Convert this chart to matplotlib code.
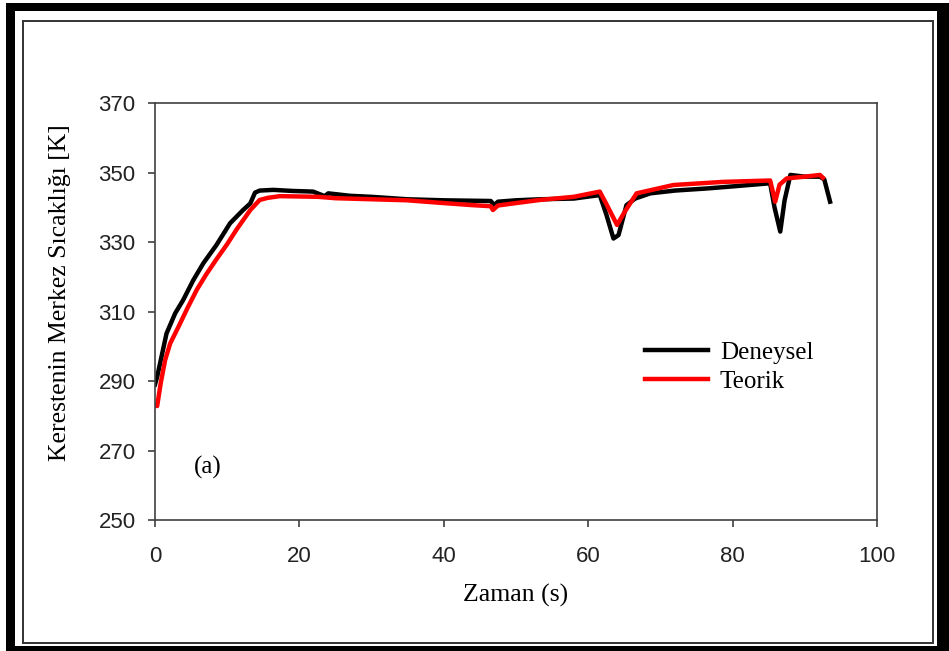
"""Kereste merkez sicakligi: deneysel vs teorik"""
import matplotlib
matplotlib.use("Agg")
import matplotlib.pyplot as plt
from matplotlib.patches import Rectangle

W, H = 949, 651

# ---- data ----
t_den = [0, 0.3, 0.9, 1.6, 2.8, 3.9, 5.3, 6.7, 8.5, 10.4, 12.2, 13.2, 13.85,
         14.5, 16.4, 19, 21.9, 23.5, 24, 27, 30, 34.9, 40, 46.5, 47, 47.5, 50,
         53.3, 58, 61.6, 62.5, 63.5, 64.2, 65.3, 66.5, 68.6, 72, 76.4, 80, 85.2,
         85.8, 86.6, 87.2, 88, 90, 92.1, 92.7, 93.5]
T_den = [289, 291.2, 297, 303.7, 309.5, 313.3, 319, 323.9, 329.1, 335.4, 339.2,
         341.1, 344.2, 344.8, 345, 344.7, 344.5, 343.2, 344, 343.3, 343, 342.3,
         342, 341.8, 340.6, 341.6, 342, 342.3, 342.5, 343.5, 338, 331, 332,
         340.6, 342.5, 344, 344.8, 345.4, 346, 346.9, 340, 333, 342, 349.3,
         348.8, 348.8, 348, 341.6]

t_teo = [0, 0.3, 0.8, 1.4, 2.1, 3.25, 4.5, 5.8, 7.1, 8.5, 10, 11.3, 13.2, 14.5,
         15.6, 17.3, 22.6, 25, 30, 34.9, 40, 44, 46.5, 46.8, 47.5, 50, 53.3, 58,
         61.6, 62.5, 64, 65, 66.7, 71.8, 78.7, 85.2, 85.9, 86.5, 87.5, 90, 92.1,
         92.5]
T_teo = [283, 282.8, 289.5, 296, 300.8, 305.6, 311, 316.3, 320.7, 325, 329.4,
         333.6, 339.2, 342.1, 342.7, 343.2, 343, 342.6, 342.3, 342, 341.2,
         340.6, 340.3, 339.2, 340.5, 341.2, 342.1, 343, 344.5, 341, 334.9,
         338.5, 344, 346.4, 347.3, 347.7, 341.6, 346.5, 348.3, 348.8, 349.3,
         348.5]

x_ticks = [0, 20, 40, 60, 80, 100]
y_ticks = [250, 270, 290, 310, 330, 350, 370]

SERIF = 'Liberation Serif'
SANS = 'Liberation Sans'

fig = plt.figure(figsize=(W / 100, H / 100), dpi=100)

def fx(px):
    return px / W

def fy(py):
    return 1 - py / H

# outer black frame (thick) + thin inner frame
for x0, y0, x1, y1 in [(6, 3, 949, 11), (6, 3, 15, 651), (937, 3, 949, 651), (6, 646, 949, 651)]:
    fig.patches.append(Rectangle((fx(x0), fy(y1)), fx(x1) - fx(x0), fy(y0) - fy(y1),
                                 transform=fig.transFigure, facecolor='black',
                                 edgecolor='none', zorder=0))
fig.patches.append(Rectangle((fx(23), fy(643)), fx(933) - fx(23), fy(21) - fy(643),
                             transform=fig.transFigure, facecolor='none',
                             edgecolor='#333333', linewidth=1.4, zorder=0))

ax = fig.add_axes([fx(155), fy(520), fx(877) - fx(155), fy(103) - fy(520)])
ax.plot(t_den, T_den, color='black', lw=3.2, label='Deneysel', solid_joinstyle='round')
ax.plot(t_teo, T_teo, color='#ff0000', lw=3.2, label='Teorik', solid_joinstyle='round')

ax.set_xlim(0, 100)
ax.set_ylim(250, 370)
ax.set_xticks(x_ticks)
ax.set_yticks(y_ticks)
for s in ax.spines.values():
    s.set_color('#404040')
    s.set_linewidth(1.2)
ax.tick_params(direction='out', length=5, width=1.2, color='#404040',
               labelsize=16, labelcolor='#222222')
ax.tick_params(axis='x', pad=14)
ax.tick_params(axis='y', pad=9)
for lab in ax.get_xticklabels() + ax.get_yticklabels():
    lab.set_fontfamily(SANS)

fig.text(fx(516), fy(595), 'Zaman (s)', family=SERIF, fontsize=18.5,
         ha='center', va='center')
fig.text(fx(60), fy(293), 'Kerestenin Merkez Sıcaklığı [K]', family=SERIF,
         fontsize=18.5, rotation=90, ha='center', va='center')
fig.text(fx(194), fy(467), '(a)', family=SERIF, fontsize=18, ha='left', va='center')

leg = ax.legend(loc='center left', bbox_to_anchor=(fx(645), fy(367)),
                bbox_transform=fig.transFigure, frameon=False, borderpad=0,
                borderaxespad=0, handlelength=2.5, handletextpad=0.5,
                labelspacing=0.25, prop={'family': SERIF, 'size': 18})

plt.savefig('out.png', dpi=100)
plt.close()
